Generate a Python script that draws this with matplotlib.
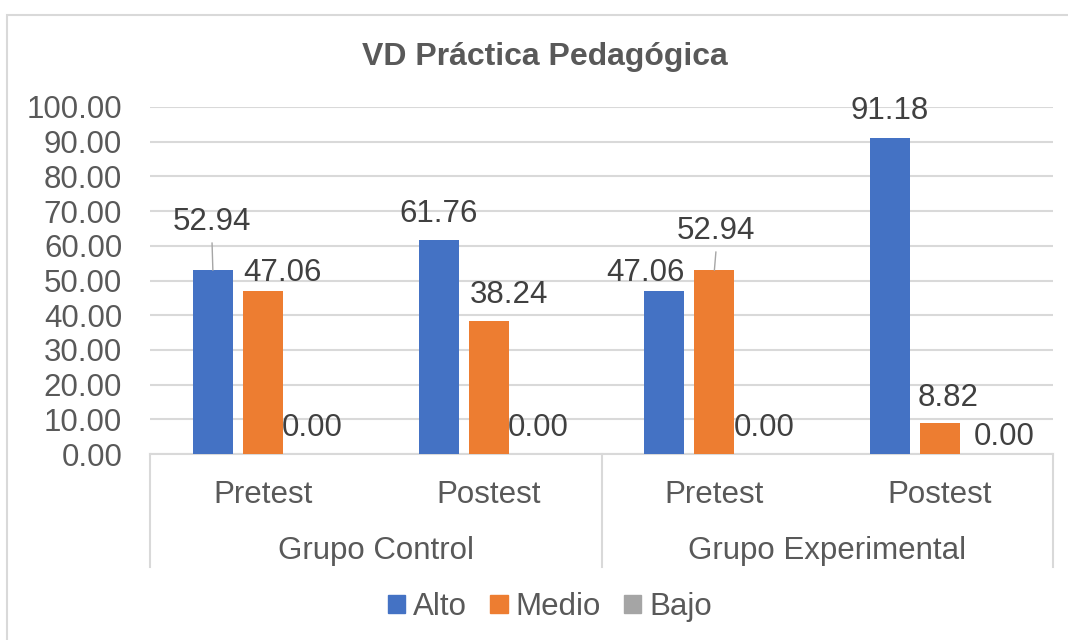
import numpy as np
import matplotlib
matplotlib.use('Agg')
from matplotlib import pyplot as plt
from matplotlib.patches import Patch, Rectangle

plt.rcParams['font.family'] = ['Liberation Sans', 'DejaVu Sans']

# data
momentos = ['Pretest', 'Postest', 'Pretest', 'Postest']
grupos = ['Grupo Control', 'Grupo Experimental']
series = ['Alto', 'Medio', 'Bajo']
alto = [52.94, 61.76, 47.06, 91.18]
medio = [47.06, 38.24, 52.94, 8.82]
bajo = [0.00, 0.00, 0.00, 0.00]
colores = ['#4472C4', '#ED7D31', '#A5A5A5']

# label placement (pixels, relative to bar top) like Excel put them
lab_dx = [[-1, 0, -19, -1], [20, 20, 2, 8], [-1, 0, 0, 14]]
lab_up = [[40, 18, 10, 19], [10, 18, 31, 17], [18, 18, 18, 9]]
leader = [[True, False, False, False], [False, False, True, False], [False] * 4]

txt = '#595959'
grid = '#D9D9D9'

fig = plt.figure(figsize=(10.68, 6.4), dpi=100)
ax = fig.add_axes([150/1068, 1-454/640, 903/1068, 347/640])

x = np.arange(len(momentos))
w = 40/225.75
step = 50/225.75
for j, vals in enumerate([alto, medio, bajo]):
	xs = x + (j-1)*step
	ax.bar(xs, vals, w, color=colores[j], zorder=3)
	for i, v in enumerate(vals):
		kw = {}
		if leader[j][i]:
			kw['arrowprops'] = dict(arrowstyle='-', color='#A6A6A6', lw=1, shrinkA=2, shrinkB=0, relpos=(0.5, 0))
		ax.annotate('%.2f' % v, xy=(xs[i], v), xytext=(lab_dx[j][i], lab_up[j][i]),
			textcoords='offset pixels', ha='center', va='baseline', fontsize=22.5,
			color='#404040', zorder=5, **kw)

ax.set_xlim(-0.5, 3.5)
ax.set_ylim(0, 100)
ax.set_yticks(np.arange(0, 101, 10))
ax.set_yticklabels(['%.2f' % t for t in np.arange(0, 101, 10)])
ax.tick_params(axis='y', length=0, pad=20, labelsize=22.5, labelcolor=txt)
ax.set_xticks([])
ax.yaxis.grid(True, color=grid, lw=1.5, zorder=0)
for s in ['top', 'right', 'left']:
	ax.spines[s].set_visible(False)
ax.spines['bottom'].set_color(grid)
ax.spines['bottom'].set_linewidth(1.5)

# two level category axis
for xv in [0, 0.5, 1.0]:
	ax.plot([xv, xv], [0, -0.326], transform=ax.transAxes, color=grid, lw=1.5, clip_on=False)
for i, m in enumerate(momentos):
	ax.text((i+0.5)/4, -0.141, m, transform=ax.transAxes, ha='center', va='baseline', fontsize=22.5, color=txt)
for k, g in enumerate(grupos):
	ax.text(0.25 + 0.5*k, -0.3026, g, transform=ax.transAxes, ha='center', va='baseline', fontsize=22.5, color=txt)

fig.text(544.5/1068, 1-65/640, 'VD Práctica Pedagógica', ha='center', va='baseline',
	fontsize=23, fontweight='bold', color=txt)

handles = [Patch(color=c) for c in colores]
fig.legend(handles, series, loc='center', bbox_to_anchor=(550/1068, 1-607/640), ncol=3,
	frameon=False, fontsize=22.5, labelcolor=txt, handlelength=0.55, handleheight=0.55,
	handletextpad=0.25, columnspacing=0.75)

# outer chart border
fig.patches.append(Rectangle((7/1068, -0.1), 1.2, 1.1-14.5/640, transform=fig.transFigure,
	fill=False, edgecolor=grid, lw=1.5))

fig.savefig('out.png', dpi=100)
